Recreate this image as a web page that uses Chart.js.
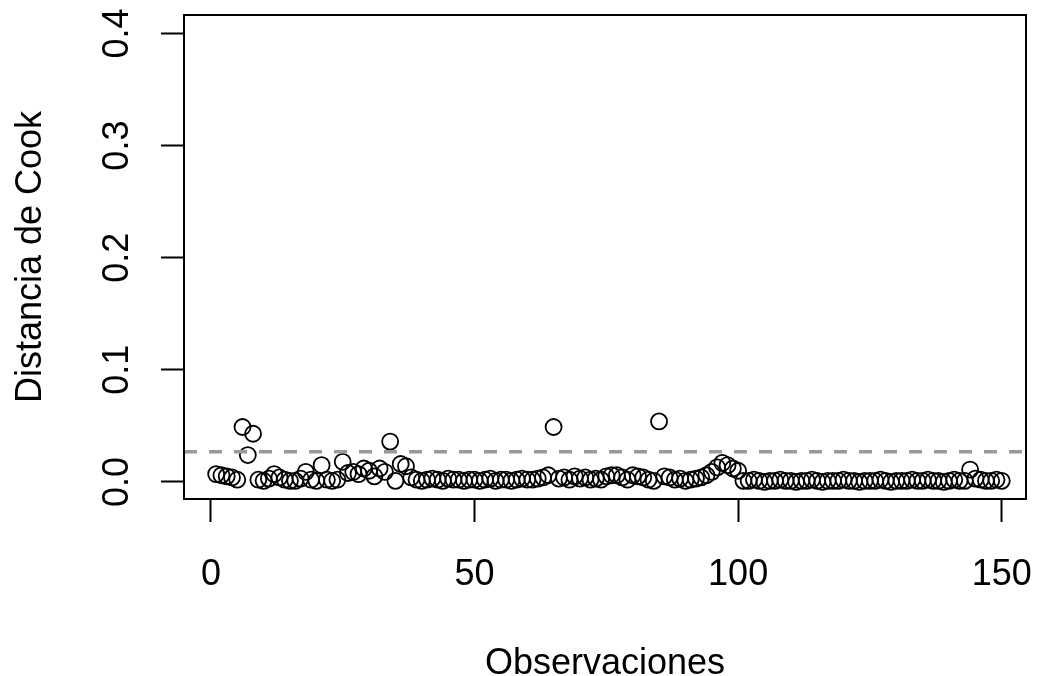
<!DOCTYPE html>
<html>
<head>
<meta charset="utf-8">
<script src="https://cdn.jsdelivr.net/npm/chart.js@4"></script>
<style>
  body { margin: 0; background: #fff; }
  canvas { display: block; }
</style>
</head>
<body>
<canvas id="myChart" width="1037" height="676"></canvas>
<script>
var cookValues = [
  0.007, 0.006, 0.005, 0.004, 0.002, 0.049, 0.024, 0.043, 0.002, 0.001,
  0.003, 0.007, 0.004, 0.002, 0.001, 0.001, 0.003, 0.009, 0.002, 0.001,
  0.015, 0.002, 0.001, 0.002, 0.018, 0.008, 0.009, 0.007, 0.012, 0.010,
  0.005, 0.012, 0.009, 0.036, 0.001, 0.016, 0.014, 0.004, 0.002, 0.001,
  0.002, 0.003, 0.002, 0.001, 0.003, 0.002, 0.002, 0.001, 0.002, 0.002,
  0.001, 0.002, 0.003, 0.001, 0.002, 0.002, 0.001, 0.002, 0.003, 0.002,
  0.002, 0.003, 0.004, 0.006, 0.049, 0.003, 0.004, 0.002, 0.005, 0.003,
  0.004, 0.002, 0.003, 0.002, 0.005, 0.006, 0.006, 0.004, 0.002, 0.006,
  0.005, 0.004, 0.002, 0.001, 0.054, 0.005, 0.004, 0.002, 0.003, 0.001,
  0.002, 0.003, 0.004, 0.006, 0.009, 0.013, 0.017, 0.015, 0.012, 0.010,
  0.001, 0.001, 0.002, 0.001, 0.000, 0.001, 0.001, 0.002, 0.001, 0.001,
  0.000, 0.001, 0.001, 0.002, 0.001, 0.000, 0.001, 0.001, 0.001, 0.002,
  0.001, 0.001, 0.000, 0.001, 0.001, 0.001, 0.002, 0.001, 0.000, 0.001,
  0.001, 0.001, 0.002, 0.001, 0.001, 0.002, 0.001, 0.001, 0.000, 0.001,
  0.002, 0.001, 0.001, 0.011, 0.003, 0.002, 0.001, 0.001, 0.002, 0.001
];
var cutoff = 0.027;

var xTicks = [0, 50, 100, 150];
var yTicks = [0, 0.1, 0.2, 0.3, 0.4];
var yTickLabels = ['0.0', '0.1', '0.2', '0.3', '0.4'];

var xMin = -5.1, xMax = 154.6;
var yMin = -0.0152, yMax = 0.4165;

var points = cookValues.map(function(v, i) {
    return { x: i + 1, y: v };
});

var FONT = '"Liberation Sans", Arial, Helvetica, sans-serif';

// R style box + rotated y tick labels
var rStyle = {
    id: 'rStyle',
    afterDraw: function(chart) {
        var ctx = chart.ctx;
        var area = chart.chartArea;
        var y = chart.scales.y;
        ctx.save();
        ctx.strokeStyle = '#000';
        ctx.lineWidth = 2;
        ctx.strokeRect(area.left, area.top, area.right - area.left, area.bottom - area.top);

        ctx.font = '36px ' + FONT;
        ctx.fillStyle = '#000';
        ctx.textAlign = 'center';
        ctx.textBaseline = 'middle';
        yTicks.forEach(function(v, i) {
            ctx.save();
            ctx.translate(118, y.getPixelForValue(v));
            ctx.rotate(-Math.PI / 2);
            ctx.fillText(yTickLabels[i], 0, 0);
            ctx.restore();
        });
        ctx.restore();
    }
};

var ctx = document.getElementById('myChart').getContext('2d');
var myChart = new Chart(ctx, {
    type: 'scatter',
    data: {
        datasets: [{
            data: points,
            pointStyle: 'circle',
            pointRadius: 8,
            pointBorderWidth: 1.8,
            pointBorderColor: '#000',
            pointBackgroundColor: 'rgba(0,0,0,0)',
            order: 2
        }, {
            data: [{ x: xMin, y: cutoff }, { x: xMax, y: cutoff }],
            showLine: true,
            borderColor: '#9a9a9a',
            borderWidth: 3.5,
            borderDash: [13, 12],
            pointRadius: 0,
            order: 1
        }]
    },
    options: {
        responsive: false,
        animation: false,
        layout: { padding: { top: 15, right: 11, left: 0, bottom: 0 } },
        plugins: {
            legend: { display: false },
            tooltip: { enabled: false }
        },
        scales: {
            x: {
                type: 'linear',
                min: xMin,
                max: xMax,
                afterBuildTicks: function(scale) {
                    scale.ticks = xTicks.map(function(v) { return { value: v }; });
                },
                afterFit: function(scale) {
                    scale.height = 177;
                    scale.paddingLeft = 0;
                    scale.paddingRight = 0;
                },
                grid: {
                    drawOnChartArea: false,
                    drawTicks: true,
                    tickLength: 23,
                    tickColor: '#000',
                    tickWidth: 2
                },
                border: { display: false },
                ticks: {
                    padding: 31,
                    maxRotation: 0,
                    autoSkip: false,
                    color: '#000',
                    font: { family: FONT, size: 36 },
                    callback: function(v) { return String(v); }
                },
                title: {
                    display: true,
                    text: 'Observaciones',
                    color: '#000',
                    font: { family: FONT, size: 36, lineHeight: 1.2 },
                    padding: { top: 0, bottom: -10 }
                }
            },
            y: {
                type: 'linear',
                min: yMin,
                max: yMax,
                afterBuildTicks: function(scale) {
                    scale.ticks = yTicks.map(function(v) { return { value: v }; });
                },
                afterFit: function(scale) {
                    scale.width = 184;
                    scale.paddingTop = 0;
                    scale.paddingBottom = 0;
                },
                grid: {
                    drawOnChartArea: false,
                    drawTicks: true,
                    tickLength: 23,
                    tickColor: '#000',
                    tickWidth: 2
                },
                border: { display: false },
                ticks: { display: false },
                title: {
                    display: true,
                    text: 'Distancia de Cook',
                    color: '#000',
                    font: { family: FONT, size: 36, lineHeight: 1.2 },
                    padding: { top: 9, bottom: 0 }
                }
            }
        }
    },
    plugins: [rStyle]
});
</script>
</body>
</html>
